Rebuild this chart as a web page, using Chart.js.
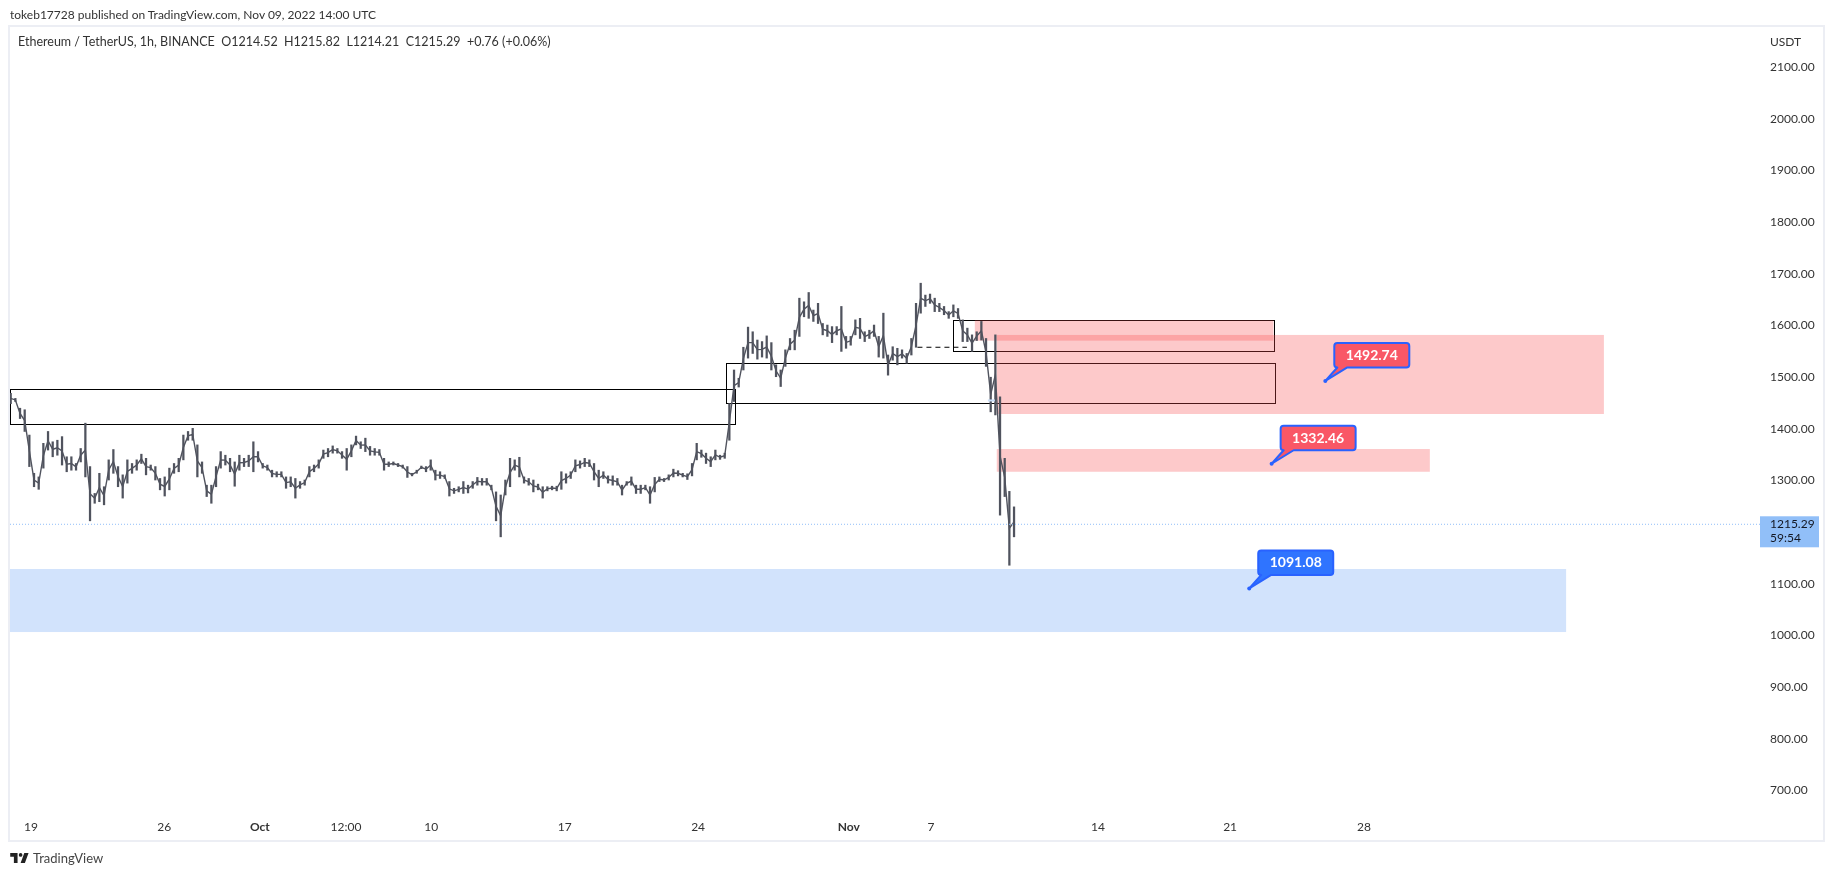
<!DOCTYPE html>
<html>
<head>
<meta charset="utf-8">
<title>ETHUSDT</title>
<script src="https://cdn.jsdelivr.net/npm/chart.js@4"></script>
<style>
  html, body { margin: 0; padding: 0; background: #fff; width: 1834px; height: 875px; overflow: hidden; }
  body { font-family: Lato, "Open Sans", sans-serif; color: #131722; }
  #chartBox { position: absolute; left: 0; top: 0; width: 1834px; height: 875px; }
  #frame { position: absolute; left: 8px; top: 25px; width: 1813px; height: 813px; border: 2px solid #eceef4; pointer-events: none; }
  #published { position: absolute; left: 10px; top: 7px; font-size: 12px; line-height: 16px; white-space: nowrap; color: #333; }
  #legend { position: absolute; left: 18px; top: 34px; font-size: 12.5px; line-height: 16px; white-space: pre; color: #333; }
  #unit { position: absolute; left: 1770px; top: 34px; font-size: 12px; line-height: 16px; color: #333; }
  #brand { position: absolute; left: 9px; top: 849px; font-size: 13px; line-height: 18px; color: #444; display: flex; align-items: center; gap: 2px; }
</style>
</head>
<body>
<div id="chartBox"><canvas id="ethChart" width="1834" height="875"></canvas></div>
<div id="frame"></div>
<div id="published">tokeb17728 published on TradingView.com, Nov 09, 2022 14:00 UTC</div>
<div id="legend">Ethereum / TetherUS, 1h, BINANCE  O1214.52  H1215.82  L1214.21  C1215.29  +0.76 (+0.06%)</div>
<div id="unit">USDT</div>
<div id="brand">
  <svg width="22" height="14" viewBox="0 0 36 22"><path fill="#222" d="M14 3H2v6h6v10h6V3zm12 16h-7l6-16h7l-6 16zm-7-10a3 3 0 1 0 0-6 3 3 0 0 0 0 6z"/></svg>
  <span>TradingView</span>
</div>
<script>
// ETH/USDT 1h: cada amostra = maxima/minima de um trecho de ~6 barras
const highs = [
  1469,1459,1440,1437,1388,1314,1307,1372,1395,1375,1378,1385,1346,1346,1333,1362,1411,1327,1275,1314,
  1288,1340,1360,1327,1311,1340,1333,1340,1351,1343,1330,1327,1304,1307,1324,1333,1343,1388,1395,1401,
  1369,1336,1291,1291,1327,1356,1349,1343,1336,1349,1343,1349,1375,1356,1333,1330,1320,1317,1317,1307,
  1307,1304,1298,1301,1327,1330,1340,1359,1362,1367,1362,1356,1362,1369,1386,1375,1382,1366,1362,1360,
  1343,1336,1336,1333,1330,1327,1314,1320,1328,1327,1340,1320,1317,1311,1298,1285,1288,
  1298,1291,1298,1306,1304,1304,1291,1278,1272,1301,1343,1340,1345,1307,1304,1301,1293,1288,1288,1289,
  1289,1317,1313,1317,1340,1338,1343,1340,1333,1320,1317,1309,1309,1304,1291,1298,1307,1291,1291,1291,
  1288,1306,1307,1304,1311,1322,1319,1314,1313,1333,1372,1359,1353,1346,1359,1349,1353,1449,
  1514,1498,1558,1597,1588,1572,1569,1580,1567,1524,1514,1553,1575,1591,1653,1646,1664,1630,1643,1604,
  1601,1598,1598,1637,1579,1579,1611,1614,1588,1591,1601,1579,1624,1543,1559,1556,1553,1546,1575,1643,
  1682,1659,1661,1653,1643,1637,1627,1640,1633,1611,1595,1582,1588,1608,1575,1500,
  1582,1462,1343,1279,1249
];
const lows = [
  1449,1453,1420,1395,1327,1288,1283,1324,1359,1346,1349,1330,1317,1320,1320,1336,1307,1222,1256,1259,
  1253,1301,1314,1288,1266,1295,1314,1320,1333,1311,1320,1301,1282,1270,1282,1314,1317,1340,1378,1378,
  1307,1314,1269,1256,1288,1324,1330,1317,1289,1320,1327,1327,1317,1336,1324,1320,1307,1307,1307,1285,
  1288,1266,1285,1291,1307,1317,1324,1343,1346,1353,1353,1343,1320,1346,1369,1362,1356,1349,1349,1349,
  1320,1327,1330,1327,1324,1306,1309,1314,1323,1317,1320,1301,1304,1304,1270,1275,1278,
  1275,1276,1285,1291,1291,1291,1282,1222,1191,1272,1288,1320,1307,1295,1291,1278,1282,1266,1280,1282,
  1280,1283,1295,1304,1317,1324,1327,1327,1301,1288,1304,1295,1291,1291,1272,1291,1291,1275,1275,1282,
  1256,1278,1298,1298,1301,1307,1309,1307,1302,1309,1340,1345,1333,1327,1340,1341,1343,1378,
  1453,1481,1514,1537,1546,1535,1539,1537,1514,1501,1482,1521,1553,1553,1579,1617,1614,1608,1604,1582,
  1579,1567,1582,1550,1556,1562,1582,1575,1569,1575,1579,1539,1537,1504,1533,1524,1537,1527,1543,1558,
  1624,1637,1643,1627,1627,1621,1614,1617,1614,1569,1569,1550,1571,1572,1521,1433,
  1427,1233,1269,1136,1191
];

const lastPrice = 1215.29;
const priceTicks = [2100, 2000, 1900, 1800, 1700, 1600, 1500, 1400, 1300, 1100, 1000, 900, 800, 700];
const timeLabels = ['19', '26', 'Oct', '12:00', '10', '17', '24', 'Nov', '7', '14', '21', '28'];
const timeTicks  = [4.36, 32.9, 53.4, 71.85, 90.1, 118.7, 147.3, 179.6, 197.2, 233, 261.3, 290];

// zonas em [amostra inicial, amostra final, preco topo, preco base]
const zoneFrom   = [211.3, 206.6, 211.3, -0.15];
const zoneTo     = [341.4, 270.6, 304.1, 333.3];
const zoneTop    = [1581.8, 1610.3, 1361, 1128.7];
const zoneBottom = [1428.8, 1570.8, 1317, 1006.7];
const zoneKind   = ['red', 'red', 'red', 'blue'];

const boxFrom   = [202, 153.3, -0.15];
const boxTo     = [270.6, 271, 155.3];
const boxTop    = [1610, 1526.9, 1476.7];
const boxBottom = [1550, 1449.5, 1409];

const calloutAt    = [281.7, 270.2, 265.4];
const calloutPrice = [1492.74, 1332.46, 1091.08];
const calloutKind  = ['red', 'red', 'blue'];

const dashFrom = 194.3, dashTo = 204.9, dashPrice = 1558;
const paleFrom = 209.4, paleTo = 210.9, palePrice = 1455;
const X_MIN = -0.15, X_MAX = 374.85, Y_MIN = 658.3, Y_MAX = 2178;

const candleColor = '#50535e';
const axisFont = '12px Lato, "Open Sans", sans-serif';

// hastes maxima/minima e uma linha fina pelo meio de cada amostra
const candleRanges = highs.map((h, i) => ({ x: i, y: [lows[i], h] }));
const bodyPath = highs.map((h, i) => ({ x: i, y: (h + lows[i]) / 2 }));

const zonesPlugin = {
  id: 'zones',
  beforeDatasetsDraw(chart) {
    const { ctx, scales: { x, y } } = chart;
    ctx.save();
    ctx.strokeStyle = '#000';
    ctx.lineWidth = 1;
    boxFrom.forEach((from, i) => {
      const l = Math.round(x.getPixelForValue(from)) + 0.5;
      const r = Math.round(x.getPixelForValue(boxTo[i])) + 0.5;
      const t = Math.round(y.getPixelForValue(boxTop[i])) + 0.5;
      const b = Math.round(y.getPixelForValue(boxBottom[i])) + 0.5;
      ctx.strokeRect(l, t, r - l, b - t);
    });
    zoneFrom.forEach((from, i) => {
      const l = x.getPixelForValue(from);
      const r = x.getPixelForValue(zoneTo[i]);
      const t = y.getPixelForValue(zoneTop[i]);
      const b = y.getPixelForValue(zoneBottom[i]);
      ctx.fillStyle = zoneKind[i] === 'red' ? 'rgba(248,75,78,0.3)' : 'rgba(30,115,240,0.2)';
      ctx.fillRect(l, t, r - l, b - t);
    });
    ctx.restore();
  },
  afterDatasetsDraw(chart) {
    const { ctx, scales: { x, y } } = chart;
    ctx.save();
    calloutAt.forEach((at, i) => {
      const ax = x.getPixelForValue(at);
      const ay = y.getPixelForValue(calloutPrice[i]);
      const bx = ax + 9, by = ay - 38, bw = 75, bh = 24.5;
      const fill = calloutKind[i] === 'red' ? '#f95766' : '#2f74ff';
      ctx.fillStyle = fill;
      ctx.strokeStyle = '#2962ff';
      ctx.lineWidth = 2;
      ctx.lineJoin = 'round';
      ctx.beginPath();
      ctx.moveTo(ax, ay);
      ctx.lineTo(bx + 3, by + bh);
      ctx.arcTo(bx, by + bh, bx, by, 3);
      ctx.arcTo(bx, by, bx + bw, by, 3);
      ctx.arcTo(bx + bw, by, bx + bw, by + bh, 3);
      ctx.arcTo(bx + bw, by + bh, bx, by + bh, 3);
      ctx.lineTo(bx + 13, by + bh);
      ctx.closePath();
      ctx.fill();
      ctx.stroke();
      ctx.fillStyle = '#2962ff';
      ctx.beginPath();
      ctx.arc(ax, ay, 2, 0, Math.PI * 2);
      ctx.fill();
      ctx.fillStyle = '#fff';
      ctx.font = 'bold 14px Lato, "Open Sans", sans-serif';
      ctx.textAlign = 'center';
      ctx.textBaseline = 'middle';
      ctx.fillText(calloutPrice[i].toFixed(2), bx + bw / 2, by + bh / 2);
    });
    ctx.restore();
  },
  afterDraw(chart) {
    // etiqueta do ultimo preco no eixo
    const { ctx, chartArea, scales: { y } } = chart;
    const py = y.getPixelForValue(lastPrice);
    ctx.save();
    ctx.fillStyle = '#91bff8';
    ctx.fillRect(chartArea.right, py - 8, 59, 31);
    ctx.fillStyle = '#131722';
    ctx.font = axisFont;
    ctx.textBaseline = 'middle';
    ctx.fillText(lastPrice.toFixed(2), chartArea.right + 10, py);
    ctx.fillText('59:54', chartArea.right + 10, py + 14);
    ctx.restore();
  }
};

new Chart(document.getElementById('ethChart'), {
  type: 'line',
  data: {
    datasets: [
      {
        data: [{ x: X_MIN, y: lastPrice }, { x: X_MAX, y: lastPrice }],
        borderColor: '#90bff9', borderWidth: 1, borderDash: [1, 2], pointRadius: 0
      },
      {
        data: [{ x: dashFrom, y: dashPrice }, { x: dashTo, y: dashPrice }],
        borderColor: '#000', borderWidth: 1, borderDash: [5, 4], pointRadius: 0
      },
      {
        data: [{ x: paleFrom, y: palePrice }, { x: paleTo, y: palePrice }],
        borderColor: '#c9ddf8', borderWidth: 2, pointRadius: 0
      },
      {
        data: bodyPath,
        borderColor: candleColor, borderWidth: 1.4, pointRadius: 0, tension: 0
      },
      {
        type: 'bar',
        data: candleRanges,
        backgroundColor: candleColor,
        barThickness: 1.6,
        borderSkipped: false
      }
    ]
  },
  options: {
    responsive: false,
    animation: false,
    devicePixelRatio: 1,
    layout: { padding: { left: 10, top: 27, right: 11, bottom: 35 } },
    plugins: { legend: { display: false }, tooltip: { enabled: false } },
    scales: {
      x: {
        type: 'linear',
        min: X_MIN,
        max: X_MAX,
        offset: false,
        grid: { display: false, drawTicks: false },
        border: { display: false },
        afterBuildTicks: (s) => { s.ticks = timeTicks.map(value => ({ value })); },
        afterFit: (s) => { s.height = 28; },
        ticks: {
          autoSkip: false,
          maxRotation: 0,
          padding: 8,
          color: '#333',
          font: (c) => ({
            family: 'Lato, "Open Sans", sans-serif',
            size: 12,
            weight: c.index === 2 || c.index === 7 ? 'bold' : 'normal'
          }),
          callback: (v, i) => timeLabels[i]
        }
      },
      y: {
        position: 'right',
        min: Y_MIN,
        max: Y_MAX,
        grid: { display: false, drawTicks: false },
        border: { display: false },
        afterBuildTicks: (s) => { s.ticks = priceTicks.map(value => ({ value })); },
        afterFit: (s) => { s.width = 63; },
        ticks: {
          autoSkip: false,
          padding: 10,
          color: '#333',
          font: { family: 'Lato, "Open Sans", sans-serif', size: 12 },
          callback: (v) => v.toFixed(2)
        }
      }
    }
  },
  plugins: [zonesPlugin]
});
</script>
</body>
</html>
